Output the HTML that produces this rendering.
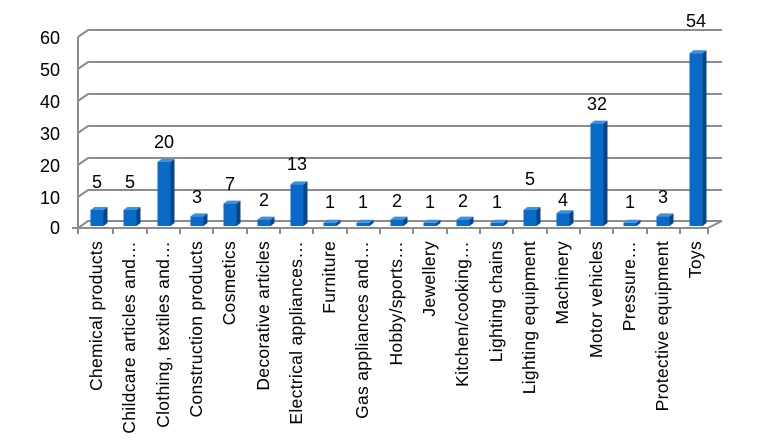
<!DOCTYPE html>
<html><head><style>body{margin:0;background:#fff}svg{display:block}text{font-family:"Liberation Sans",sans-serif;fill:#000}.v{font-size:18px;text-anchor:middle}.a{font-size:18px;text-anchor:end}.l{font-size:17.5px;text-anchor:end;letter-spacing:0.3px}.f{fill:#0a6ac8}.s{fill:#07458a}.c{fill:#3d8fe0}</style></head>
<body>
<svg width="769" height="447" viewBox="0 0 769 447" xmlns="http://www.w3.org/2000/svg">
<g stroke="#8c8c8c" stroke-width="2" fill="none">
<polyline points="78,37 88,30 722,30"/>
<polyline points="78,69 88,62 722,62"/>
<polyline points="78,101 88,94 722,94"/>
<polyline points="78,133 88,126 722,126"/>
<polyline points="78,165 88,158 722,158"/>
<polyline points="78,197 88,190 722,190"/>
<polyline points="78,228 88,221 722,221"/>
<line x1="78" y1="37" x2="78" y2="234"/>
<line x1="72" y1="228" x2="708" y2="228"/>
<line x1="708" y1="228" x2="722" y2="221"/>
<path d="M113,228v6M147,228v6M180,228v6M213,228v6M247,228v6M280,228v6M313,228v6M347,228v6M380,228v6M413,228v6M447,228v6M480,228v6M513,228v6M547,228v6M580,228v6M613,228v6M647,228v6M680,228v6M708,228v6"/>
</g>
<text class="a" x="60" y="44">60</text><text class="a" x="60" y="76">50</text><text class="a" x="60" y="108">40</text><text class="a" x="60" y="140">30</text><text class="a" x="60" y="172">20</text><text class="a" x="60" y="204">10</text><text class="a" x="60" y="234">0</text>

<g transform="translate(97,0)"><rect class="f" x="-6.5" y="210" width="13" height="16"/><polygon class="s" points="6.5,210 10.5,207 10.5,223 6.5,226"/><polygon class="c" points="-6.5,210 -2.5,207 10.5,207 6.5,210"/><text class="v" x="0" y="188">5</text></g>
<g transform="translate(130,0)"><rect class="f" x="-6.5" y="210" width="13" height="16"/><polygon class="s" points="6.5,210 10.5,207 10.5,223 6.5,226"/><polygon class="c" points="-6.5,210 -2.5,207 10.5,207 6.5,210"/><text class="v" x="0" y="188">5</text></g>
<g transform="translate(164,0)"><rect class="f" x="-6.5" y="162" width="13" height="64"/><polygon class="s" points="6.5,162 10.5,159 10.5,223 6.5,226"/><polygon class="c" points="-6.5,162 -2.5,159 10.5,159 6.5,162"/><text class="v" x="0" y="148">20</text></g>
<g transform="translate(197,0)"><rect class="f" x="-6.5" y="216.4" width="13" height="9.6"/><polygon class="s" points="6.5,216.4 10.5,213.4 10.5,223 6.5,226"/><polygon class="c" points="-6.5,216.4 -2.5,213.4 10.5,213.4 6.5,216.4"/><text class="v" x="0" y="203">3</text></g>
<g transform="translate(230,0)"><rect class="f" x="-6.5" y="203.6" width="13" height="22.4"/><polygon class="s" points="6.5,203.6 10.5,200.6 10.5,223 6.5,226"/><polygon class="c" points="-6.5,203.6 -2.5,200.6 10.5,200.6 6.5,203.6"/><text class="v" x="0" y="190">7</text></g>
<g transform="translate(264,0)"><rect class="f" x="-6.5" y="219.6" width="13" height="6.4"/><polygon class="s" points="6.5,219.6 10.5,216.6 10.5,223 6.5,226"/><polygon class="c" points="-6.5,219.6 -2.5,216.6 10.5,216.6 6.5,219.6"/><text class="v" x="0" y="206">2</text></g>
<g transform="translate(297,0)"><rect class="f" x="-6.5" y="184.4" width="13" height="41.6"/><polygon class="s" points="6.5,184.4 10.5,181.4 10.5,223 6.5,226"/><polygon class="c" points="-6.5,184.4 -2.5,181.4 10.5,181.4 6.5,184.4"/><text class="v" x="0" y="170">13</text></g>
<g transform="translate(330,0)"><rect class="f" x="-6.5" y="222.8" width="13" height="3.2"/><polygon class="s" points="6.5,222.8 10.5,219.8 10.5,223 6.5,226"/><polygon class="c" points="-6.5,222.8 -2.5,219.8 10.5,219.8 6.5,222.8"/><text class="v" x="0" y="208">1</text></g>
<g transform="translate(363,0)"><rect class="f" x="-6.5" y="222.8" width="13" height="3.2"/><polygon class="s" points="6.5,222.8 10.5,219.8 10.5,223 6.5,226"/><polygon class="c" points="-6.5,222.8 -2.5,219.8 10.5,219.8 6.5,222.8"/><text class="v" x="0" y="208">1</text></g>
<g transform="translate(397,0)"><rect class="f" x="-6.5" y="219.6" width="13" height="6.4"/><polygon class="s" points="6.5,219.6 10.5,216.6 10.5,223 6.5,226"/><polygon class="c" points="-6.5,219.6 -2.5,216.6 10.5,216.6 6.5,219.6"/><text class="v" x="0" y="207">2</text></g>
<g transform="translate(430,0)"><rect class="f" x="-6.5" y="222.8" width="13" height="3.2"/><polygon class="s" points="6.5,222.8 10.5,219.8 10.5,223 6.5,226"/><polygon class="c" points="-6.5,222.8 -2.5,219.8 10.5,219.8 6.5,222.8"/><text class="v" x="0" y="208">1</text></g>
<g transform="translate(463,0)"><rect class="f" x="-6.5" y="219.6" width="13" height="6.4"/><polygon class="s" points="6.5,219.6 10.5,216.6 10.5,223 6.5,226"/><polygon class="c" points="-6.5,219.6 -2.5,216.6 10.5,216.6 6.5,219.6"/><text class="v" x="0" y="207">2</text></g>
<g transform="translate(497,0)"><rect class="f" x="-6.5" y="222.8" width="13" height="3.2"/><polygon class="s" points="6.5,222.8 10.5,219.8 10.5,223 6.5,226"/><polygon class="c" points="-6.5,222.8 -2.5,219.8 10.5,219.8 6.5,222.8"/><text class="v" x="0" y="208">1</text></g>
<g transform="translate(530,0)"><rect class="f" x="-6.5" y="210" width="13" height="16"/><polygon class="s" points="6.5,210 10.5,207 10.5,223 6.5,226"/><polygon class="c" points="-6.5,210 -2.5,207 10.5,207 6.5,210"/><text class="v" x="0" y="185">5</text></g>
<g transform="translate(563,0)"><rect class="f" x="-6.5" y="213.2" width="13" height="12.8"/><polygon class="s" points="6.5,213.2 10.5,210.2 10.5,223 6.5,226"/><polygon class="c" points="-6.5,213.2 -2.5,210.2 10.5,210.2 6.5,213.2"/><text class="v" x="0" y="206">4</text></g>
<g transform="translate(597,0)"><rect class="f" x="-6.5" y="123.6" width="13" height="102.4"/><polygon class="s" points="6.5,123.6 10.5,120.6 10.5,223 6.5,226"/><polygon class="c" points="-6.5,123.6 -2.5,120.6 10.5,120.6 6.5,123.6"/><text class="v" x="0" y="110">32</text></g>
<g transform="translate(630,0)"><rect class="f" x="-6.5" y="222.8" width="13" height="3.2"/><polygon class="s" points="6.5,222.8 10.5,219.8 10.5,223 6.5,226"/><polygon class="c" points="-6.5,222.8 -2.5,219.8 10.5,219.8 6.5,222.8"/><text class="v" x="0" y="208">1</text></g>
<g transform="translate(663,0)"><rect class="f" x="-6.5" y="216.4" width="13" height="9.6"/><polygon class="s" points="6.5,216.4 10.5,213.4 10.5,223 6.5,226"/><polygon class="c" points="-6.5,216.4 -2.5,213.4 10.5,213.4 6.5,216.4"/><text class="v" x="0" y="203">3</text></g>
<g transform="translate(696,0)"><rect class="f" x="-6.5" y="53.2" width="13" height="172.8"/><polygon class="s" points="6.5,53.2 10.5,50.2 10.5,223 6.5,226"/><polygon class="c" points="-6.5,53.2 -2.5,50.2 10.5,50.2 6.5,53.2"/><text class="v" x="0" y="27">54</text></g>

<text class="l" transform="translate(102,241) rotate(-90)">Chemical products</text>
<text class="l" transform="translate(135,241) rotate(-90)">Childcare articles and…</text>
<text class="l" transform="translate(169,241) rotate(-90)">Clothing, textiles and…</text>
<text class="l" transform="translate(202,241) rotate(-90)">Construction products</text>
<text class="l" transform="translate(235,241) rotate(-90)">Cosmetics</text>
<text class="l" transform="translate(269,241) rotate(-90)">Decorative articles</text>
<text class="l" transform="translate(302,241) rotate(-90)">Electrical appliances…</text>
<text class="l" transform="translate(335,241) rotate(-90)">Furniture</text>
<text class="l" transform="translate(368,241) rotate(-90)">Gas appliances and…</text>
<text class="l" transform="translate(402,241) rotate(-90)">Hobby/sports…</text>
<text class="l" transform="translate(435,241) rotate(-90)">Jewellery</text>
<text class="l" transform="translate(468,241) rotate(-90)">Kitchen/cooking…</text>
<text class="l" transform="translate(502,241) rotate(-90)">Lighting chains</text>
<text class="l" transform="translate(535,241) rotate(-90)">Lighting equipment</text>
<text class="l" transform="translate(568,241) rotate(-90)">Machinery</text>
<text class="l" transform="translate(602,241) rotate(-90)">Motor vehicles</text>
<text class="l" transform="translate(635,241) rotate(-90)">Pressure…</text>
<text class="l" transform="translate(668,241) rotate(-90)">Protective equipment</text>
<text class="l" transform="translate(701,241) rotate(-90)">Toys</text>
</svg>
</body></html>
